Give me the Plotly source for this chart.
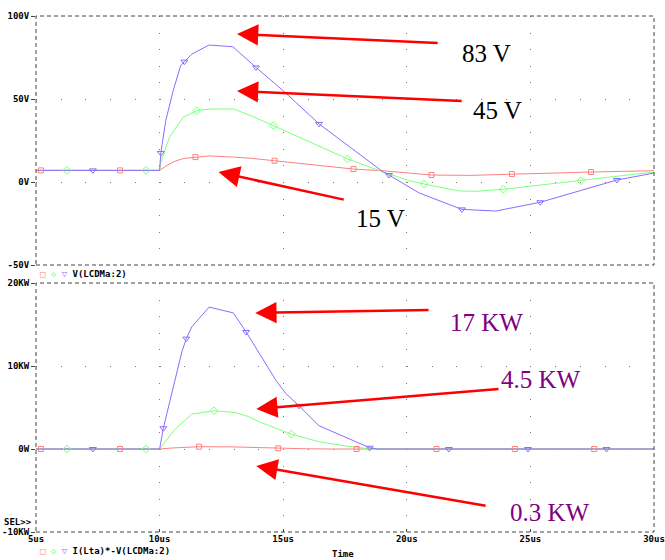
import plotly.graph_objects as go

# ---------------- data ----------------
# Top panel: V(LCDMa:2) [V] vs time [us]
t_top_red = [5, 10.0, 10.3, 10.58, 10.98, 11.45, 12.0, 13.0, 13.7, 14.65, 17.84, 19.0, 21.0, 22.6, 24.3, 27.4, 30]
v_top_red = [7, 7, 10, 12.3, 14.2, 15, 15.7, 15, 14.3, 12.8, 7.8, 6.8, 4.2, 4.0, 4.8, 6, 6.8]

t_top_green = [5, 10.0, 10.05, 10.4, 10.95, 11.5, 12.05, 13.0, 13.68, 14.6, 17.6, 19.05, 20.1, 20.7, 22.1, 22.8, 23.9, 27.05, 30]
v_top_green = [7, 7, 12, 27, 39, 43, 44, 44, 40, 34, 13.9, 6, 0.8, -1.2, -5.4, -5.6, -4.4, 0.8, 6]

t_top_blue = [5, 10.0, 10.05, 10.25, 10.55, 10.85, 11.0, 11.3, 12.0, 12.96, 13.9, 15.0, 16.45, 19.05, 19.28, 20.5, 22.23, 23.6, 25.4, 28.5, 30]
v_top_blue = [7, 7, 17.5, 37, 55, 70, 72.5, 77, 82.5, 81.5, 69, 55, 35, 6, 4.2, -6.6, -16.5, -17.5, -12.2, 1.2, 5.4]

mk_top_red_t = [5.2, 8.4, 11.45, 14.65, 17.84, 21.0, 24.25, 27.45]
mk_top_red_v = [7, 7, 15, 12.8, 7.8, 4.2, 4.8, 6]
mk_top_green_t = [6.25, 9.45, 11.5, 14.6, 17.6, 20.7, 23.9, 27.05]
mk_top_green_v = [7, 7, 43, 34, 13.9, -1.2, -4.4, 0.8]
mk_top_blue_t = [7.3, 10.05, 11.0, 13.9, 16.45, 19.28, 22.23, 25.4, 28.5]
mk_top_blue_v = [7, 17.5, 72.5, 69, 35, 4.2, -16.5, -12.2, 1.2]

# Bottom panel: I(Lta)*-V(LCDMa:2) [KW] vs time [us]
t_bot_red = [5, 10.0, 10.5, 11.0, 11.6, 13.0, 14.0, 14.8, 16.0, 17.0, 30]
p_bot_red = [0, 0, 0.12, 0.22, 0.28, 0.25, 0.15, 0.08, 0.02, 0, 0]

t_bot_green = [5, 10.0, 10.6, 11.3, 12.2, 13.05, 13.6, 14.1, 14.7, 15.33, 16.4, 17.45, 18.4, 19.0, 30]
p_bot_green = [0, 0, 2.3, 4.2, 4.6, 4.4, 3.9, 3.2, 2.5, 1.8, 0.9, 0.4, 0.05, 0, 0]

t_bot_blue = [5, 10.0, 10.15, 10.5, 10.9, 11.08, 11.3, 12.0, 12.98, 13.5, 14.7, 15.1, 15.64, 16.45, 17.45, 18.5, 18.8, 30]
p_bot_blue = [0, 0, 2.5, 6.8, 11.7, 13.3, 14.7, 17.1, 16.4, 14.1, 8.3, 6.7, 5.2, 2.8, 1.5, 0.15, 0, 0]

mk_bot_red_t = [5.2, 8.4, 11.6, 14.8, 17.97, 21.2, 24.37, 27.58]
mk_bot_red_p = [0, 0, 0.28, 0.08, 0, 0, 0, 0]
mk_bot_green_t = [6.25, 9.45, 12.2, 15.33]
mk_bot_green_p = [0, 0, 4.6, 1.8]
mk_bot_blue_t = [7.3, 10.15, 11.08, 13.5, 15.64, 18.5, 21.7, 24.9, 28.08]
mk_bot_blue_p = [0, 2.5, 13.3, 14.1, 5.2, 0.15, 0, 0, 0]

x_tickvals = [5, 10, 15, 20, 25, 30]
x_ticktext = ["5us", "10us", "15us", "20us", "25us", "30us"]
top_tickvals = [-50, 0, 50, 100]
top_ticktext = ["-50V", "0V", "50V", "100V"]
bot_tickvals = [-10, 0, 10, 20]
bot_ticktext = ["-10KW", "0W", "10KW", "20KW"]

top_labels = ["83 V", "45 V", "15 V"]
bot_labels = ["17 KW", "4.5 KW", "0.3 KW"]

# ---------------- styling ----------------
RED = "#ff8080"
GREEN = "#80ff80"
BLUE = "#8c6cff"
MONO = dict(family="DejaVu Sans Mono", size=9, color="black", weight="bold")

fig = go.Figure()

def add_series(t, v, color, xa, ya):
    fig.add_trace(go.Scatter(x=t, y=v, mode="lines", line=dict(color=color, width=1),
                             xaxis=xa, yaxis=ya, showlegend=False, hoverinfo="skip"))

def add_markers(t, v, color, symbol, size, xa, ya):
    fig.add_trace(go.Scatter(x=t, y=v, mode="markers",
                             marker=dict(symbol=symbol, size=size, color=color,
                                         line=dict(color=color, width=1)),
                             xaxis=xa, yaxis=ya, showlegend=False, hoverinfo="skip"))

for xa, ya, (tr, vr), (tg, vg), (tb, vb), mks in [
    ("x", "y", (t_top_red, v_top_red), (t_top_green, v_top_green), (t_top_blue, v_top_blue),
     [(mk_top_red_t, mk_top_red_v), (mk_top_green_t, mk_top_green_v), (mk_top_blue_t, mk_top_blue_v)]),
    ("x2", "y2", (t_bot_red, p_bot_red), (t_bot_green, p_bot_green), (t_bot_blue, p_bot_blue),
     [(mk_bot_red_t, mk_bot_red_p), (mk_bot_green_t, mk_bot_green_p), (mk_bot_blue_t, mk_bot_blue_p)]),
]:
    add_series(tr, vr, RED, xa, ya)
    add_series(tg, vg, GREEN, xa, ya)
    add_series(tb, vb, BLUE, xa, ya)
    add_markers(*mks[0], RED, "square-open", 5, xa, ya)
    add_markers(*mks[1], GREEN, "diamond-open", 6, xa, ya)
    add_markers(*mks[2], BLUE, "triangle-down-open", 6, xa, ya)

PLOT_W = 618
PLOT_H = 516
top_dom = [(532 - 265) / PLOT_H, 1.0]
bot_dom = [0.0, (532 - 283) / PLOT_H]

xgrid = dict(showgrid=True, gridcolor="#777", gridwidth=1, griddash="1px,15.6px",
             zeroline=False, showline=False, range=[5, 30], tickvals=x_tickvals,
             automargin=False)
ygrid = dict(showgrid=True, gridcolor="#777", gridwidth=1, griddash="1px,23.72px",
             zeroline=False, showline=False, ticks="outside", ticklen=4, tickcolor="#444",
             tickfont=MONO, automargin=False)

fig.update_layout(
    width=665, height=560,
    margin=dict(l=36, r=11, t=16, b=28),
    paper_bgcolor="white", plot_bgcolor="white",
    showlegend=False,
    xaxis=dict(**xgrid, domain=[0, 1], anchor="y", showticklabels=False, ticks=""),
    xaxis2=dict(**xgrid, domain=[0, 1], anchor="y2", matches="x", ticktext=x_ticktext,
                showticklabels=True, ticks="inside", ticklen=3, tickcolor="#444", tickfont=MONO),
    yaxis=dict(**ygrid, domain=top_dom, range=[-50, 100], tickvals=top_tickvals,
               ticktext=top_ticktext, anchor="x"),
    yaxis2=dict(**ygrid, domain=bot_dom, range=[-10, 20], tickvals=bot_tickvals,
                ticktext=bot_ticktext, anchor="x2"),
)

# dashed frames around both panels
for xr, yr in [("x domain", "y domain"), ("x2 domain", "y2 domain")]:
    fig.add_shape(type="rect", xref=xr, yref=yr, x0=0, x1=1, y0=0, y1=1,
                  line=dict(color="#444", width=1, dash="4px,3px"), layer="above")

# red arrows (head tip -> tail) and labels
SERIF = "Liberation Serif"
arrows = [
    # xref, yref, tip x, tip y, tail x, tail y
    ("x", "y", 13.13, 89.2, 21.31, 83.7),
    ("x", "y", 13.13, 54.8, 22.28, 48.8),
    ("x", "y", 12.38, 6.0, 17.51, -10.8),
    ("x2", "y2", 13.87, 16.4, 20.94, 16.75),
    ("x2", "y2", 13.91, 4.82, 23.77, 7.23),
    ("x2", "y2", 13.91, -2.05, 23.25, -6.87),
]
for xr, yr, hx, hy, tx, ty in arrows:
    fig.add_annotation(xref=xr, yref=yr, x=hx, y=hy, axref=xr, ayref=yr, ax=tx, ay=ty,
                       text="", showarrow=True, arrowhead=2, arrowsize=1.7, arrowwidth=2.5,
                       arrowcolor="#ff0000", standoff=0)

label_pos_top = [(23.21, 77.7), (23.65, 42.8), (18.92, -21.7)]
for txt, (lx, ly) in zip(top_labels, label_pos_top):
    fig.add_annotation(xref="x", yref="y", x=lx, y=ly, text=txt, showarrow=False,
                       font=dict(family=SERIF, size=25, color="black"))
label_pos_bot = [(23.21, 15.3), (25.43, 8.43), (25.8, -7.6)]
for txt, (lx, ly) in zip(bot_labels, label_pos_bot):
    fig.add_annotation(xref="x2", yref="y2", x=lx, y=ly, text=txt, showarrow=False,
                       font=dict(family=SERIF, size=25, color="#800080"))

# PSpice-style legends and labels
def legend_text(name):
    return (f'<span style="color:{RED}">□</span> <span style="color:{GREEN}">◇</span> '
            f'<span style="color:{BLUE}">▽</span> {name}')

fig.add_annotation(xref="paper", yref="paper", x=0.003, y=(532 - 274) / PLOT_H,
                   xanchor="left", yanchor="middle", text=legend_text("V(LCDMa:2)"),
                   showarrow=False, font=MONO)
fig.add_annotation(xref="paper", yref="paper", x=0.003, y=(532 - 551) / PLOT_H,
                   xanchor="left", yanchor="middle", text=legend_text("I(Lta)*-V(LCDMa:2)"),
                   showarrow=False, font=MONO)
fig.add_annotation(xref="paper", yref="paper", x=-0.003, y=(532 - 522) / PLOT_H,
                   xanchor="right", yanchor="middle", text="SEL>>",
                   showarrow=False, font=MONO)
fig.add_annotation(xref="paper", yref="paper", x=(343 - 36) / PLOT_W, y=(532 - 554) / PLOT_H,
                   xanchor="center", yanchor="middle", text="Time",
                   showarrow=False, font=MONO)

fig.write_html("out.html",
               config={"displayModeBar": False},
               post_script="document.body.style.margin='0px';"
                           "document.documentElement.style.overflow='hidden';")
